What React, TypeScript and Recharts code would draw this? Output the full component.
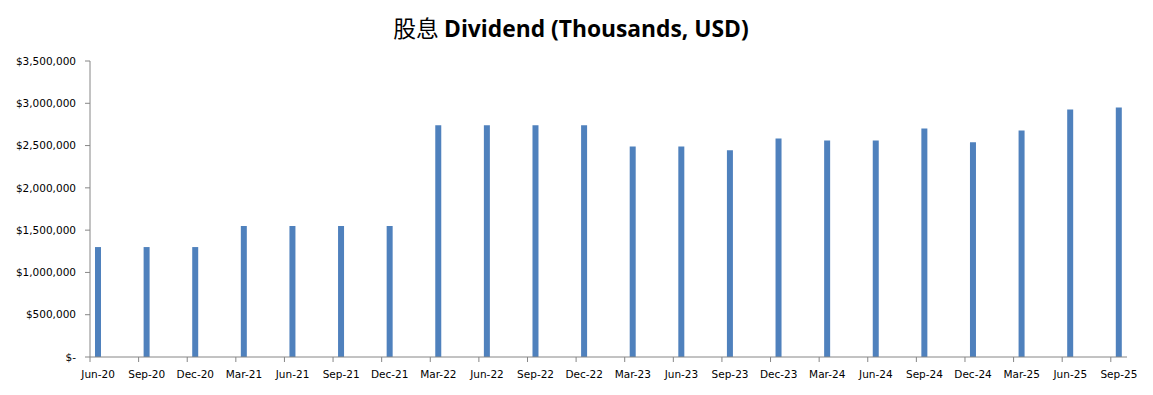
import React from 'react';
import { BarChart, Bar, XAxis, YAxis } from 'recharts';

const quarters = [
  'Jun-20', 'Sep-20', 'Dec-20', 'Mar-21', 'Jun-21', 'Sep-21', 'Dec-21', 'Mar-22',
  'Jun-22', 'Sep-22', 'Dec-22', 'Mar-23', 'Jun-23', 'Sep-23', 'Dec-23', 'Mar-24',
  'Jun-24', 'Sep-24', 'Dec-24', 'Mar-25', 'Jun-25', 'Sep-25',
];

const dividends = [
  1300000, 1300000, 1300000, 1550000, 1550000, 1550000, 1550000, 2740000,
  2740000, 2740000, 2740000, 2490000, 2490000, 2445000, 2585000, 2560000,
  2560000, 2703000, 2538000, 2679000, 2927000, 2950000,
];

const yTicks = [0, 500000, 1000000, 1500000, 2000000, 2500000, 3000000, 3500000];

const titleChinese = '股息';
const titleLatin = 'Dividend (Thousands, USD)';

// Excel date axis: one slot per month, a quarter's bar sits in its first month.
const rows: { label: string; value: number | null }[] = [];
quarters.forEach((q, i) => {
  rows.push({ label: q, value: dividends[i] });
  if (i < quarters.length - 1) {
    rows.push({ label: `${q}_m1`, value: null });
    rows.push({ label: `${q}_m2`, value: null });
  }
});

const AXIS = '#868686';
const FONT = 'DejaVu Sans';
const W = 1153;
const H = 395;
const LEFT = 90;
const RIGHT_M = 26;
const PLOT_W = W - LEFT - RIGHT_M;
const HALF_BAND = PLOT_W / rows.length / 2;

const fmtY = (v: number) => (v === 0 ? '$-' : '$' + v.toLocaleString('en-US'));

const XTick = (props: any) => {
  const { x, y, payload } = props;
  const off = typeof payload?.offset === 'number' && payload.offset > 0 ? payload.offset : HALF_BAND;
  return (
    <g>
      <line x1={x - off} x2={x - off} y1={y - 5} y2={y} stroke={AXIS} strokeWidth={1} />
      <text x={x} y={y + 16} textAnchor="middle" fontFamily={FONT} fontSize={10.5} fill="#000">
        {payload.value}
      </text>
    </g>
  );
};

export default function App() {
  return (
    <div style={{ position: 'absolute', left: 0, top: 0, width: W, height: H, background: '#fff' }}>
      <svg width={W} height={50} style={{ position: 'absolute', left: 0, top: 0 }}>
        <text x={571} y={37} textAnchor="middle" fontSize={22.8} fill="#000">
          <tspan fontFamily="Noto Sans CJK SC" fontWeight="normal">{titleChinese} </tspan>
          <tspan fontFamily="Open Sans" fontWeight="bold">{titleLatin}</tspan>
        </text>
      </svg>
      <div style={{ position: 'absolute', left: 0, top: 0 }}>
        <BarChart
          width={W}
          height={H}
          data={rows}
          margin={{ top: 61, right: RIGHT_M, bottom: 0, left: 0 }}
        >
          <XAxis
            dataKey="label"
            ticks={quarters}
            interval={0}
            tickLine={false}
            tickSize={5}
            tickMargin={0}
            height={38}
            axisLine={{ stroke: AXIS }}
            tick={<XTick />}
          />
          <YAxis
            type="number"
            domain={[0, 3500000]}
            ticks={yTicks}
            interval={0}
            width={LEFT}
            tickFormatter={fmtY}
            tickSize={5}
            tickMargin={9}
            tickLine={{ stroke: AXIS }}
            axisLine={{ stroke: AXIS }}
            tick={{ fontFamily: FONT, fontSize: 10.5, fill: '#000' }}
          />
          <Bar dataKey="value" fill="#4F81BD" barSize={6} isAnimationActive={false} />
        </BarChart>
      </div>
    </div>
  );
}
